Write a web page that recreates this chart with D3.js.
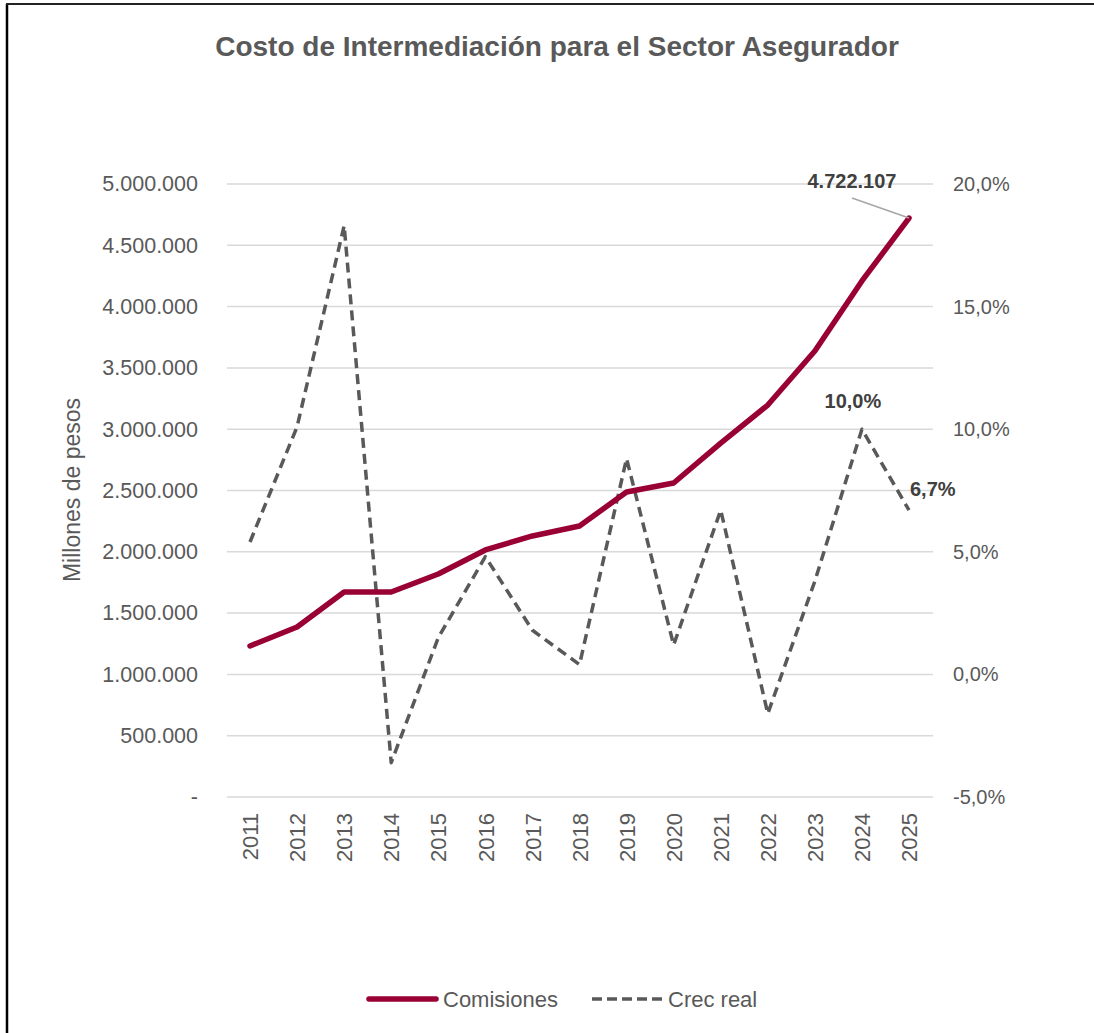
<!DOCTYPE html>
<html>
<head>
<meta charset="utf-8">
<script src="https://cdn.jsdelivr.net/npm/d3@7"></script>
<style>
  body { margin: 0; background: #fff; }
  text { font-family: "Liberation Sans", Arial, sans-serif; }
</style>
</head>
<body>
<div id="chart"></div>
<script>
const years = ["2011","2012","2013","2014","2015","2016","2017","2018","2019","2020","2021","2022","2023","2024","2025"];
const comisiones = [1232000, 1387000, 1672000, 1672000, 1819000, 2015000, 2129000, 2210000, 2488000, 2561000, 2887000, 3197000, 3638000, 4209000, 4722107];
const crecReal = [5.4, 10.1, 18.3, -3.6, 1.5, 4.8, 1.8, 0.4, 8.8, 1.2, 6.7, -1.6, 3.8, 10.0, 6.7];
const leftTicks = [0, 500000, 1000000, 1500000, 2000000, 2500000, 3000000, 3500000, 4000000, 4500000, 5000000];
const rightTicks = [-5, 0, 5, 10, 15, 20];

const width = 1094;
const height = 1033;
const margin = { top: 184, bottom: 236, left: 227, right: 161 };

const svg = d3.select("#chart")
    .append("svg")
    .attr("width", width)
    .attr("height", height);

// frame (left + top edge only, as in the screenshot)
svg.append("line").attr("x1", 7).attr("x2", 7).attr("y1", 4).attr("y2", height)
    .attr("stroke", "#000").attr("stroke-width", 2.5);
svg.append("line").attr("x1", 6).attr("x2", width).attr("y1", 4).attr("y2", 4)
    .attr("stroke", "#222").attr("stroke-width", 2);

const x = d3.scalePoint()
    .domain(years)
    .range([250, 909]);

const y = d3.scaleLinear()
    .domain([0, 5000000])
    .range([height - margin.bottom, margin.top]);

const y2 = d3.scaleLinear()
    .domain([-5, 20])
    .range([height - margin.bottom, margin.top]);

const esNum = d3.formatLocale({ decimal: ",", thousands: ".", grouping: [3], minus: "-" });
const fmtLeft = v => v === 0 ? "-" : esNum.format(",.0f")(v);
const fmtRight = v => esNum.format(".1f")(v) + "%";

// grid
svg.append("g")
    .selectAll("line")
    .data(leftTicks)
    .join("line")
        .attr("x1", margin.left)
        .attr("x2", width - margin.right)
        .attr("y1", d => y(d))
        .attr("y2", d => y(d))
        .attr("stroke", "#d9d9d9")
        .attr("stroke-width", 1.5);

function yAxis(g) {
    g.attr("transform", `translate(${margin.left - 29}, 0)`)
        .call(d3.axisLeft(y).tickValues(leftTicks).tickFormat(fmtLeft).tickSize(0).tickPadding(0))
        .call(g => g.select(".domain").remove())
        .attr("font-size", "21.5px");
    g.selectAll("text").attr("fill", "#595959").attr("font-family", "Liberation Sans, Arial, sans-serif");
}

function y2Axis(g) {
    g.attr("transform", `translate(${width - margin.right + 20}, 0)`)
        .call(d3.axisRight(y2).tickValues(rightTicks).tickFormat(fmtRight).tickSize(0).tickPadding(0))
        .call(g => g.select(".domain").remove())
        .attr("font-size", "20px");
    g.selectAll("text").attr("fill", "#595959").attr("font-family", "Liberation Sans, Arial, sans-serif");
}

function xAxis(g) {
    g.attr("transform", `translate(0, ${height - margin.bottom})`)
        .call(d3.axisBottom(x).tickSize(0).tickPadding(0))
        .call(g => g.select(".domain").remove())
        .attr("font-size", "22px");
    g.selectAll("text")
        .attr("fill", "#595959")
        .attr("font-family", "Liberation Sans, Arial, sans-serif")
        .attr("transform", "rotate(-90)")
        .attr("text-anchor", "end")
        .attr("x", -16)
        .attr("y", 0)
        .attr("dy", "0.35em");
}

svg.append("g").call(yAxis);
svg.append("g").call(y2Axis);
svg.append("g").call(xAxis);

// axis title
svg.append("text")
    .attr("transform", "translate(80, 490) rotate(-90)")
    .attr("text-anchor", "middle")
    .attr("font-size", "23px")
    .attr("fill", "#595959")
    .text("Millones de pesos");

// title
svg.append("text")
    .attr("x", 557)
    .attr("y", 56)
    .attr("text-anchor", "middle")
    .attr("font-size", "28px")
    .attr("font-weight", "bold")
    .attr("fill", "#595959")
    .text("Costo de Intermediación para el Sector Asegurador");

// lines
const lineCom = d3.line().x((d, i) => x(years[i])).y(d => y(d));
const lineCrec = d3.line().x((d, i) => x(years[i])).y(d => y2(d));

svg.append("path")
    .datum(crecReal)
    .attr("fill", "none")
    .attr("stroke", "#595959")
    .attr("stroke-width", 3.5)
    .attr("stroke-dasharray", "10,6")
    .attr("stroke-linejoin", "round")
    .attr("d", lineCrec);

svg.append("path")
    .datum(comisiones)
    .attr("fill", "none")
    .attr("stroke", "#990033")
    .attr("stroke-width", 5.5)
    .attr("stroke-linecap", "round")
    .attr("stroke-linejoin", "round")
    .attr("d", lineCom);

// data labels
const last = years.length - 1;
svg.append("line")
    .attr("x1", 852).attr("y1", 198)
    .attr("x2", x(years[last])).attr("y2", y(comisiones[last]))
    .attr("stroke", "#a6a6a6").attr("stroke-width", 1.5);
svg.append("text")
    .attr("x", 852).attr("y", 188)
    .attr("text-anchor", "middle")
    .attr("font-size", "20px").attr("font-weight", "bold").attr("fill", "#404040")
    .text(esNum.format(",.0f")(comisiones[last]));
svg.append("text")
    .attr("x", x(years[last - 1]) - 9).attr("y", y2(crecReal[last - 1]) - 21)
    .attr("text-anchor", "middle")
    .attr("font-size", "20px").attr("font-weight", "bold").attr("fill", "#404040")
    .text(fmtRight(crecReal[last - 1]));
svg.append("text")
    .attr("x", x(years[last]) + 1).attr("y", y2(crecReal[last]) - 14)
    .attr("text-anchor", "start")
    .attr("font-size", "20px").attr("font-weight", "bold").attr("fill", "#404040")
    .text(fmtRight(crecReal[last]));

// legend
const legend = svg.append("g").attr("transform", "translate(0, 999)");
legend.append("line")
    .attr("x1", 369).attr("x2", 436).attr("y1", 0).attr("y2", 0)
    .attr("stroke", "#990033").attr("stroke-width", 5.5).attr("stroke-linecap", "round");
legend.append("text")
    .attr("x", 443).attr("y", 0).attr("dy", "0.35em")
    .attr("font-size", "22px").attr("fill", "#595959")
    .text("Comisiones");
legend.append("line")
    .attr("x1", 592).attr("x2", 662).attr("y1", 0).attr("y2", 0)
    .attr("stroke", "#595959").attr("stroke-width", 3.5).attr("stroke-dasharray", "10,5");
legend.append("text")
    .attr("x", 668).attr("y", 0).attr("dy", "0.35em")
    .attr("font-size", "22px").attr("fill", "#595959")
    .text("Crec real");
</script>
</body>
</html>
